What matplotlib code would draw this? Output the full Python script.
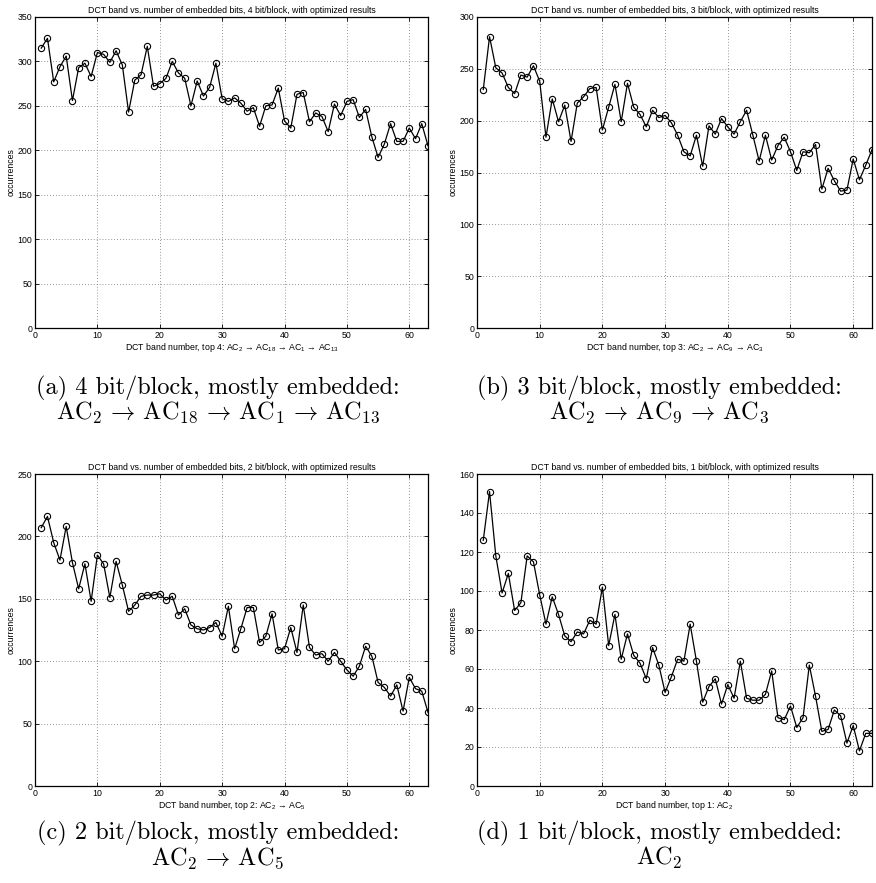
import numpy as np
import matplotlib
matplotlib.use("Agg")
import matplotlib.pyplot as plt

plt.rcParams['font.family'] = ['Liberation Sans', 'DejaVu Sans']
plt.rcParams['mathtext.fontset'] = 'custom'
plt.rcParams['mathtext.rm'] = 'Liberation Sans'
plt.rcParams['mathtext.it'] = 'Liberation Sans:italic'

bands = np.arange(1, 64)

occ_4bit = [315, 326, 277, 294, 306, 256, 293, 298, 283, 310,
            308, 299, 312, 296, 243, 279, 285, 317, 272, 275,
            281, 300, 287, 281, 250, 278, 261, 271, 298, 258,
            255, 259, 253, 244, 248, 227, 250, 251, 270, 233,
            225, 263, 265, 232, 242, 238, 221, 252, 239, 255,
            257, 237, 246, 215, 192, 207, 230, 210, 210, 225,
            213, 230, 205]

occ_3bit = [230, 281, 251, 246, 232, 226, 244, 242, 253, 238,
            184, 221, 199, 215, 180, 217, 223, 231, 232, 191,
            213, 235, 199, 236, 213, 206, 194, 210, 203, 205,
            198, 186, 170, 166, 186, 156, 195, 187, 202, 194,
            187, 199, 210, 186, 161, 186, 162, 176, 184, 170,
            152, 170, 169, 177, 134, 154, 142, 132, 133, 163,
            143, 157, 172]

occ_2bit = [207, 216, 195, 181, 208, 179, 158, 178, 148, 185,
            178, 151, 180, 161, 140, 145, 152, 153, 153, 154,
            149, 152, 137, 142, 129, 126, 125, 127, 131, 120,
            144, 110, 126, 143, 143, 115, 120, 138, 109, 110,
            127, 107, 145, 111, 105, 106, 100, 107, 100, 93,
            88, 96, 112, 104, 83, 79, 72, 81, 60, 87,
            78, 76, 59]

occ_1bit = [126, 151, 118, 99, 109, 90, 94, 118, 115, 98,
            83, 97, 88, 77, 74, 79, 78, 85, 83, 102,
            72, 88, 65, 78, 67, 63, 55, 71, 62, 48,
            56, 65, 64, 83, 64, 43, 51, 55, 42, 52,
            45, 64, 45, 44, 44, 47, 59, 35, 34, 41,
            30, 35, 62, 46, 28, 29, 39, 36, 22, 31,
            18, 27, 27]

series = [occ_4bit, occ_3bit, occ_2bit, occ_1bit]
bits = [4, 3, 2, 1]
ymaxes = [350, 300, 250, 160]
ysteps = [50, 50, 50, 20]
xlabels = ["DCT band number, top 4: AC$_2$ \u2192 AC$_{18}$ \u2192 AC$_1$ \u2192 AC$_{13}$",
           "DCT band number, top 3: AC$_2$ \u2192 AC$_9$ \u2192 AC$_3$",
           "DCT band number, top 2: AC$_2$ \u2192 AC$_5$",
           "DCT band number, top 1: AC$_2$"]
cap1 = ["(a) 4 bit/block, mostly embedded:",
        "(b) 3 bit/block, mostly embedded:",
        "(c) 2 bit/block, mostly embedded:",
        "(d) 1 bit/block, mostly embedded:"]
arr = r"\,\rightarrow\,"
cap2 = [r"$\mathrm{AC}_2" + arr + r"\mathrm{AC}_{18}" + arr + r"\mathrm{AC}_1" + arr + r"\mathrm{AC}_{13}$",
        r"$\mathrm{AC}_2" + arr + r"\mathrm{AC}_9" + arr + r"\mathrm{AC}_3$",
        r"$\mathrm{AC}_2" + arr + r"\mathrm{AC}_5$",
        r"$\mathrm{AC}_2$"]

W, H = 876, 883
fig = plt.figure(figsize=(W / 100, H / 100), dpi=100)

# axes boxes in pixels: left, top, right, bottom
boxes = [(35, 17, 428, 328), (477, 17, 872, 328),
         (35, 474, 428, 786), (477, 474, 872, 786)]
cap_x = [0.249, 0.753, 0.249, 0.753]
cap_y = [(0.5606, 0.5334), (0.5606, 0.5334), (0.0566, 0.0283), (0.0566, 0.0283)]

fs = 6.3
for i in range(4):
    l, t, r, b = boxes[i]
    ax = fig.add_axes([l / W, 1 - b / H, (r - l) / W, (b - t) / H])
    ax.plot(bands, series[i], '-', color='black', lw=0.9,
            marker='o', markersize=4.5, markerfacecolor='none',
            markeredgecolor='black', markeredgewidth=0.8)
    ax.set_xlim(0, 63)
    ax.set_ylim(0, ymaxes[i])
    ax.set_xticks(range(0, 61, 10))
    ax.set_yticks(range(0, ymaxes[i] + 1, ysteps[i]))
    ax.grid(True, linestyle=(0, (1, 2.5)), color='0.45', lw=0.6)
    ax.tick_params(direction='in', top=True, right=True, length=3,
                   width=0.6, labelsize=fs, pad=2)
    for s in ax.spines.values():
        s.set_linewidth(0.9)
    ax.set_title("DCT band vs. number of embedded bits, %d bit/block, with optimized results" % bits[i],
                 fontsize=fs, pad=3)
    ax.set_xlabel(xlabels[i], fontsize=fs, labelpad=1)
    ax.set_ylabel("occurrences", fontsize=fs, labelpad=1)

    fig.text(cap_x[i], cap_y[i][0], cap1[i], family='cmr10', fontsize=17.5,
             ha='center', va='center')
    fig.text(cap_x[i], cap_y[i][1], cap2[i], fontsize=17.5, math_fontfamily='cm',
             ha='center', va='center')

fig.savefig("out.png", dpi=100)
